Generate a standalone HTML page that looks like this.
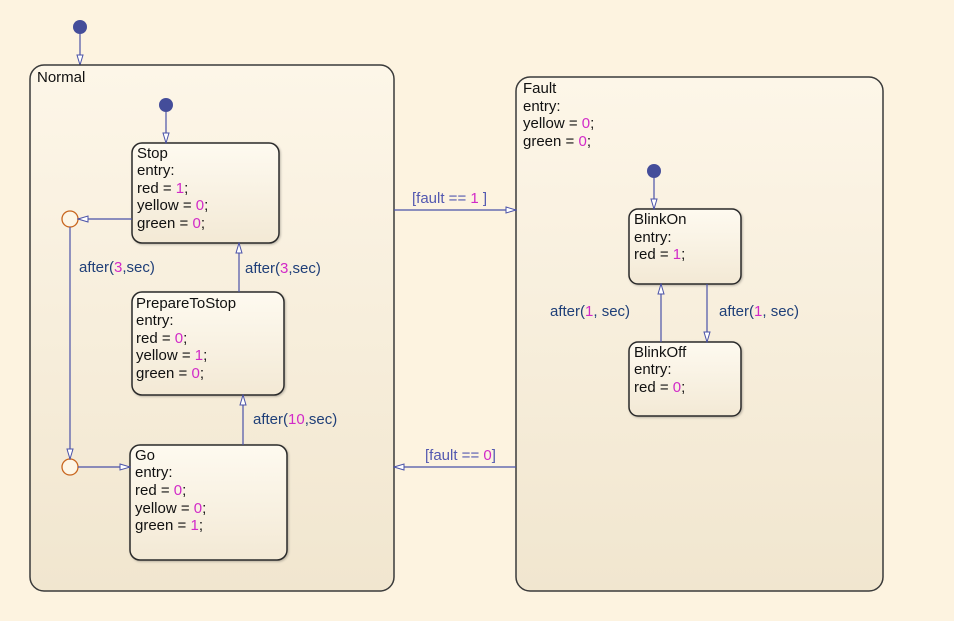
<!DOCTYPE html>
<html><head><meta charset="utf-8"><style>
html,body{margin:0;padding:0;background:#fdf3e0;}
svg{display:block;font-family:"Liberation Sans",sans-serif;font-size:15px;}
.t{fill:#111;}
.n{fill:#d22ac8;}
.l{fill:#1f3f78;}
.g{fill:#5358b0;}
</style></head><body>
<svg width="954" height="621" viewBox="0 0 954 621">
<defs>
<linearGradient id="bg" x1="0" y1="0" x2="0" y2="1"><stop offset="0" stop-color="#fdf6e8"/><stop offset="1" stop-color="#f1e6cf"/></linearGradient>
<linearGradient id="sg" x1="0" y1="0" x2="0" y2="1"><stop offset="0" stop-color="#fefaf0"/><stop offset="1" stop-color="#f3e9d5"/></linearGradient>
<marker id="a" markerWidth="12" markerHeight="8" refX="11" refY="4" orient="auto" markerUnits="userSpaceOnUse"><path d="M1,1 L11,4 L1,7 Z" fill="#fff" stroke="#4a52a8" stroke-width="1"/></marker>
<filter id="sh"><feDropShadow dx="1" dy="1" stdDeviation="1" flood-color="#000" flood-opacity="0.25"/></filter>
</defs>
<rect width="954" height="621" fill="#fdf3e0"/>
<g stroke="#4a52a8" stroke-width="1.2" fill="none">
<line x1="80" y1="34" x2="80" y2="65" marker-end="url(#a)"/>
</g>
<circle cx="80" cy="27" r="7" fill="#444d9a"/>
<rect x="30" y="65" width="364" height="526" rx="14" fill="url(#bg)" stroke="#3a3a3a" stroke-width="1.5"/>
<rect x="516" y="77" width="367" height="514" rx="14" fill="url(#bg)" stroke="#3a3a3a" stroke-width="1.5"/>
<g filter="url(#sh)" fill="url(#sg)" stroke="#2a2a2a" stroke-width="1.5">
<rect x="132" y="143" width="147" height="100" rx="10"/>
<rect x="132" y="292" width="152" height="103" rx="10"/>
<rect x="130" y="445" width="157" height="115" rx="10"/>
<rect x="629" y="209" width="112" height="75" rx="9"/>
<rect x="629" y="342" width="112" height="74" rx="9"/>
</g>
<circle cx="166" cy="105" r="7" fill="#444d9a"/>
<circle cx="654" cy="171" r="7" fill="#444d9a"/>
<circle cx="70" cy="219" r="8" fill="#fdf6e6" stroke="#c8661e" stroke-width="1.3"/>
<circle cx="70" cy="467" r="8" fill="#fdf6e6" stroke="#c8661e" stroke-width="1.3"/>
<g stroke="#4a52a8" stroke-width="1.2" fill="none">
<line x1="166" y1="112" x2="166" y2="143" marker-end="url(#a)"/>
<line x1="132" y1="219" x2="78" y2="219" marker-end="url(#a)"/>
<line x1="70" y1="227" x2="70" y2="459" marker-end="url(#a)"/>
<line x1="78" y1="467" x2="130" y2="467" marker-end="url(#a)"/>
<line x1="243" y1="445" x2="243" y2="395" marker-end="url(#a)"/>
<line x1="239" y1="292" x2="239" y2="243" marker-end="url(#a)"/>
<line x1="394" y1="210" x2="516" y2="210" marker-end="url(#a)"/>
<line x1="516" y1="467" x2="394" y2="467" marker-end="url(#a)"/>
<line x1="654" y1="178" x2="654" y2="209" marker-end="url(#a)"/>
<line x1="661" y1="342" x2="661" y2="284" marker-end="url(#a)"/>
<line x1="707" y1="284" x2="707" y2="342" marker-end="url(#a)"/>
</g>
<text class="t" x="37" y="82">Normal</text>
<text class="t" x="137" y="158">Stop</text>
<text class="t" x="137" y="175">entry:</text>
<text class="t" x="137" y="193">red = <tspan class="n">1</tspan>;</text>
<text class="t" x="137" y="210">yellow = <tspan class="n">0</tspan>;</text>
<text class="t" x="137" y="228">green = <tspan class="n">0</tspan>;</text>
<text class="t" x="136" y="308">PrepareToStop</text>
<text class="t" x="136" y="325">entry:</text>
<text class="t" x="136" y="343">red = <tspan class="n">0</tspan>;</text>
<text class="t" x="136" y="360">yellow = <tspan class="n">1</tspan>;</text>
<text class="t" x="136" y="378">green = <tspan class="n">0</tspan>;</text>
<text class="t" x="135" y="460">Go</text>
<text class="t" x="135" y="477">entry:</text>
<text class="t" x="135" y="495">red = <tspan class="n">0</tspan>;</text>
<text class="t" x="135" y="513">yellow = <tspan class="n">0</tspan>;</text>
<text class="t" x="135" y="530">green = <tspan class="n">1</tspan>;</text>
<text class="l" x="79" y="272">after(<tspan class="n">3</tspan>,sec)</text>
<text class="l" x="245" y="273">after(<tspan class="n">3</tspan>,sec)</text>
<text class="l" x="253" y="424">after(<tspan class="n">10</tspan>,sec)</text>
<text class="g" x="412" y="203">[fault == <tspan class="n">1</tspan> ]</text>
<text class="g" x="425" y="460">[fault == <tspan class="n">0</tspan>]</text>
<text class="t" x="523" y="93">Fault</text>
<text class="t" x="523" y="111">entry:</text>
<text class="t" x="523" y="128">yellow = <tspan class="n">0</tspan>;</text>
<text class="t" x="523" y="146">green = <tspan class="n">0</tspan>;</text>
<text class="t" x="634" y="224">BlinkOn</text>
<text class="t" x="634" y="242">entry:</text>
<text class="t" x="634" y="259">red = <tspan class="n">1</tspan>;</text>
<text class="t" x="634" y="357">BlinkOff</text>
<text class="t" x="634" y="374">entry:</text>
<text class="t" x="634" y="392">red = <tspan class="n">0</tspan>;</text>
<text class="l" x="550" y="316">after(<tspan class="n">1</tspan>, sec)</text>
<text class="l" x="719" y="316">after(<tspan class="n">1</tspan>, sec)</text>
</svg>
</body></html>
